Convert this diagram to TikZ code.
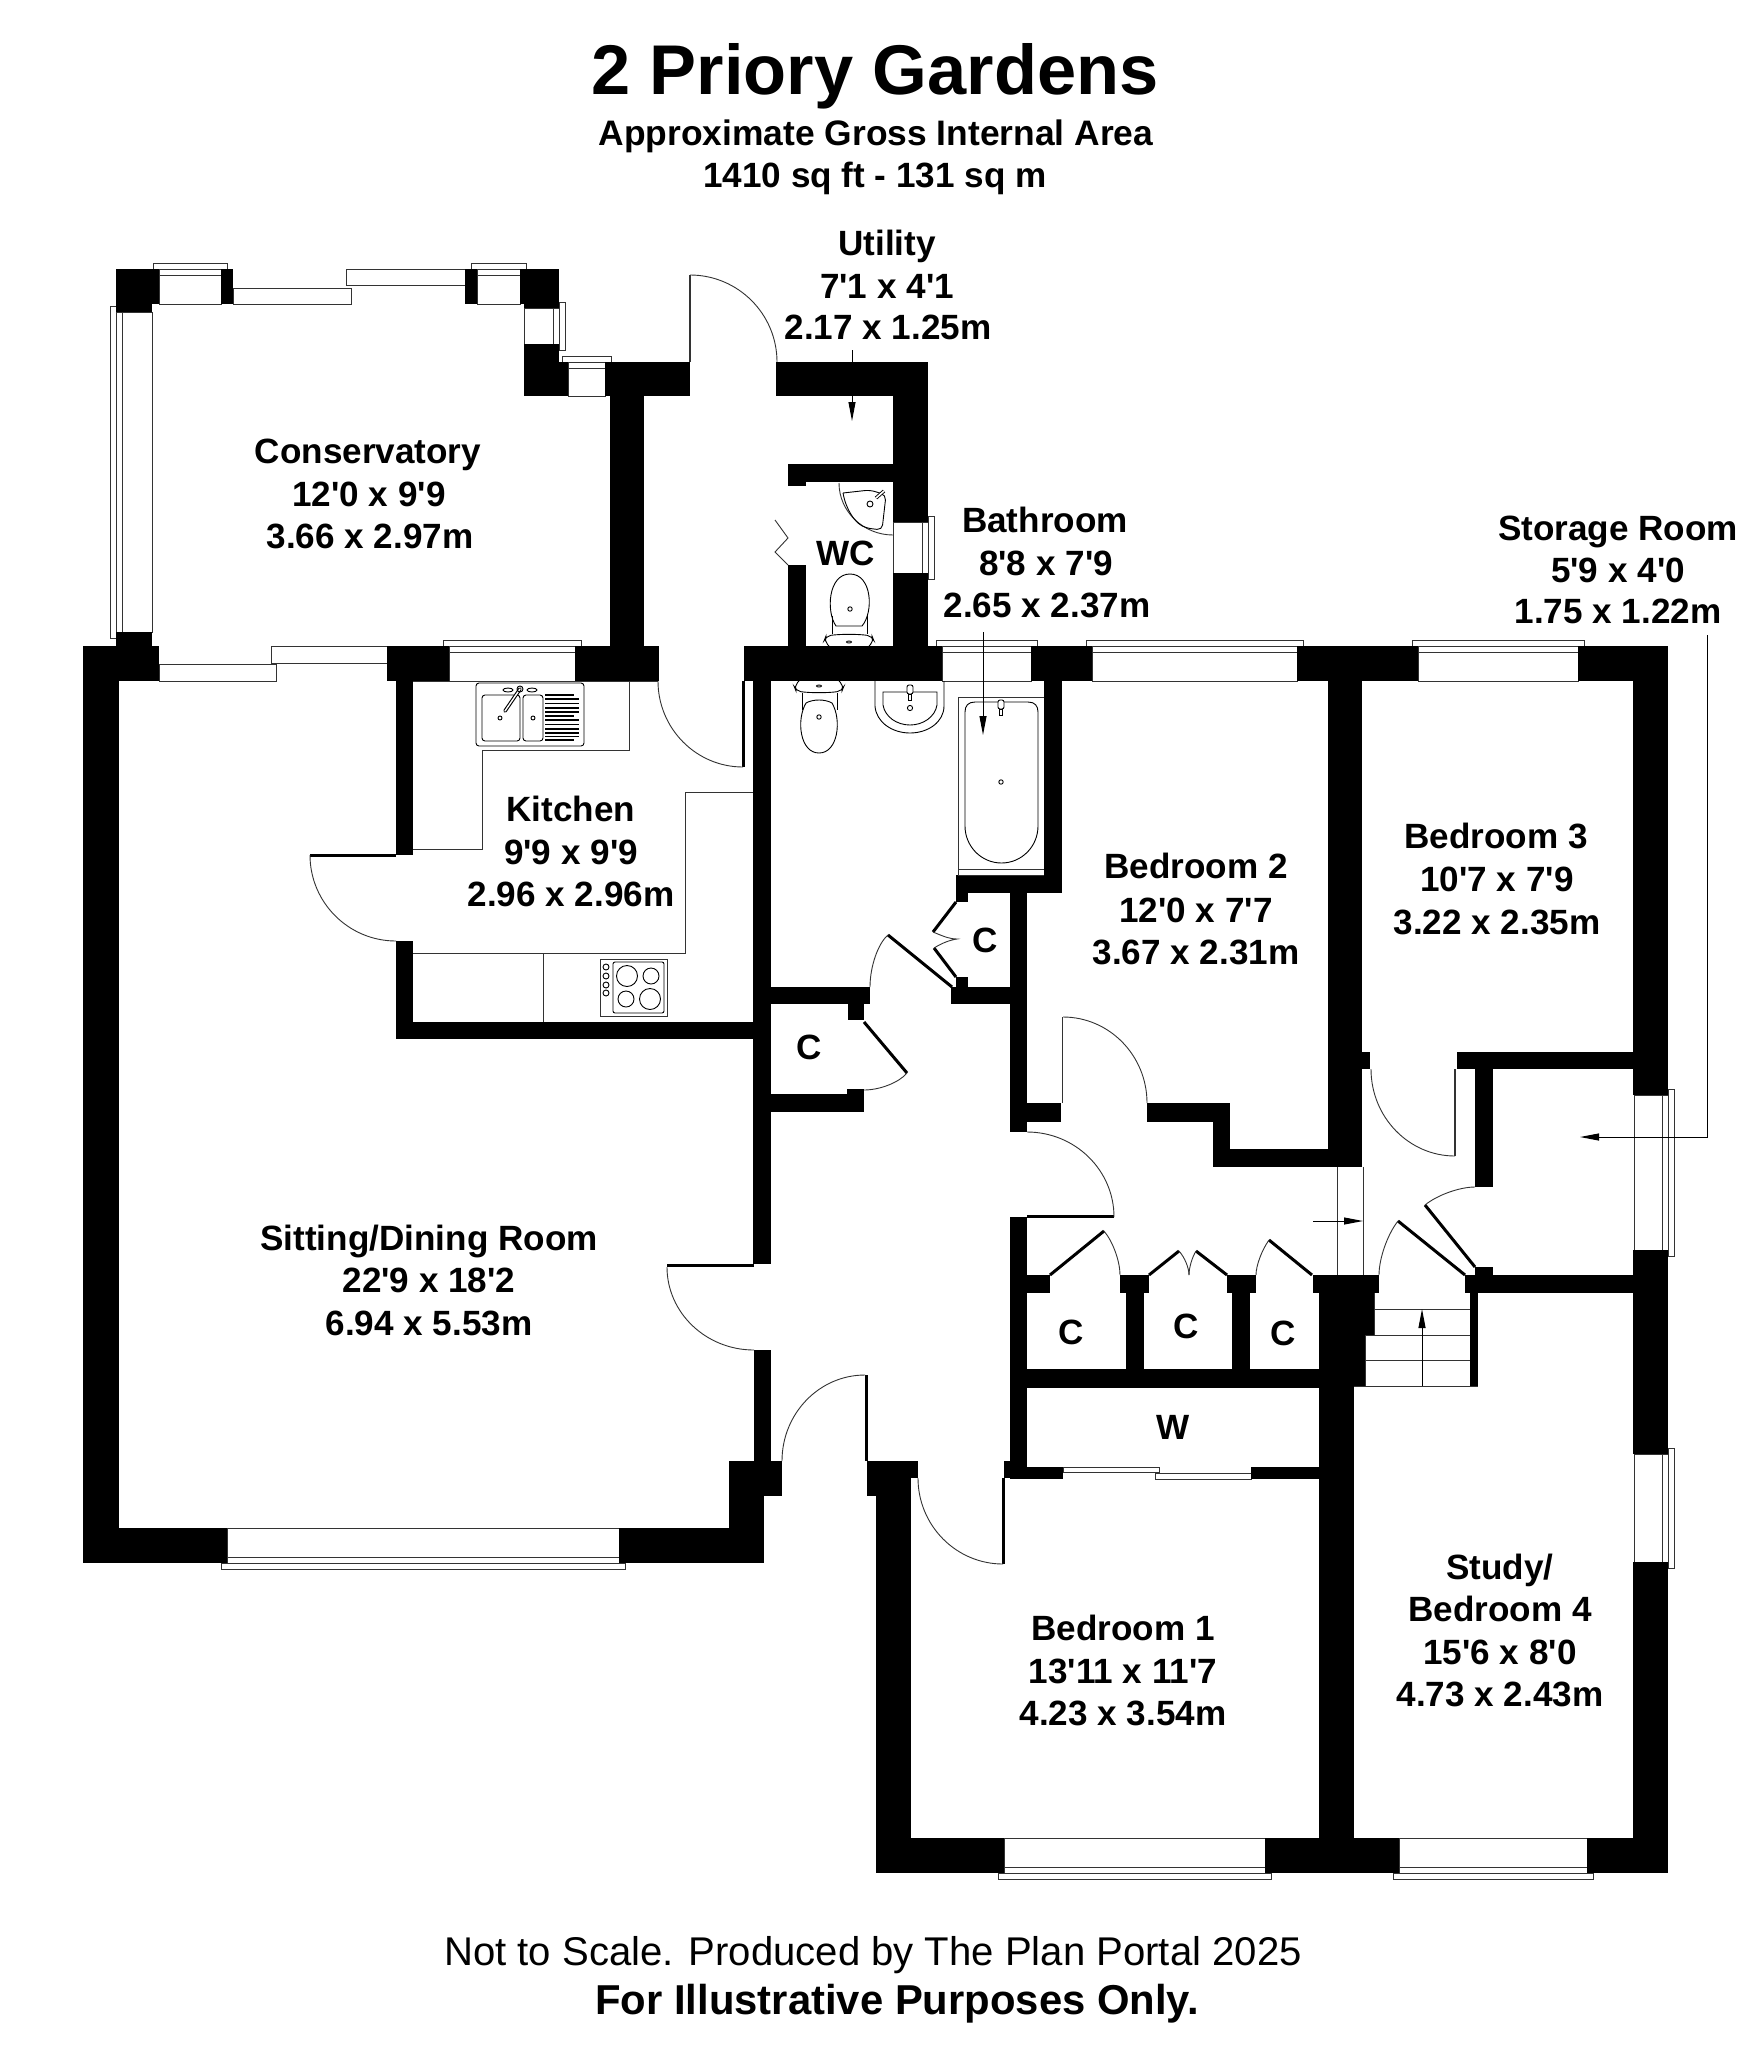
\documentclass[tikz,border=0pt]{standalone}
\usepackage{fontspec}
\usetikzlibrary{calc,arrows.meta}
\newfontfamily\lib{Liberation Sans}
\tikzset{
 x=1pt,y=-1pt,
 wall/.style={fill=black,draw=none},
 ln/.style={draw=black!80,line width=0.9pt},
 fix/.style={draw=black,line width=0.9pt},
 thk/.style={draw=black,line width=3pt},
 lbl/.style={anchor=base,inner sep=0pt,font=\lib\bfseries\fontsize{35.1}{40}\selectfont},
 ptr/.style={draw=black,line width=1pt,-{Triangle[length=19pt,width=7pt]}},
}
\newcommand\W[4]{\fill[wall] (#1,#2) rectangle (#3,#4);}
\newcommand\winT[4]{\draw[ln] (#1,#3) rectangle (#2,#4); \draw[ln] (#1,#3+6) -- (#2,#3+6); \draw[ln] (#1-6,#3) rectangle (#2+6,#3-6);}
\newcommand\winB[4]{\draw[ln] (#1,#3) rectangle (#2,#4); \draw[ln] (#1,#4-6) -- (#2,#4-6); \draw[ln] (#1-6,#4) rectangle (#2+6,#4+6);}
\newcommand\winR[4]{\draw[ln] (#3,#1) rectangle (#4,#2); \draw[ln] (#4-6,#1) -- (#4-6,#2); \draw[ln] (#4,#1-6) rectangle (#4+6,#2+6);}
\newcommand\winL[4]{\draw[ln] (#3,#1) rectangle (#4,#2); \draw[ln] (#3+6,#1) -- (#3+6,#2); \draw[ln] (#3,#1-6) rectangle (#3-6,#2+6);}
\newcommand\qa[3]{\draw[ln] (#1) .. controls ($(#1)!.552!(#3)$) and ($(#2)!.552!(#3)$) .. (#2);}
\begin{document}
\begin{tikzpicture}
\useasboundingbox (0,0) rectangle (1754,2048);
\fill[white] (0,0) rectangle (1754,2048);
% ---- windows
\winT{159}{221}{269}{304}
\winT{477}{520}{269}{304}
\winR{308}{344}{524}{559}
\winT{568}{605}{362}{396}
\winL{312}{632}{116}{152}
\winR{522}{573}{893}{928}
\winT{449}{575}{646}{681}
\winT{942}{1031}{646}{681}
\winT{1092}{1297}{646}{681}
\winT{1418}{1578}{646}{681}
\winR{1095}{1250}{1634}{1668}
\winR{1454}{1562}{1634}{1668}
\winB{227}{619}{1528}{1563}
\winB{1004}{1265}{1838}{1873}
\winB{1399}{1587}{1838}{1873}
% sliding doors
\draw[ln] (233,288) rectangle (351,304);
\draw[ln] (346,269) rectangle (465,285);
\draw[ln] (159,664) rectangle (276,681);
\draw[ln] (271,646) rectangle (387,663);
\draw[ln] (1063,1467) rectangle (1159,1472);
\draw[ln] (1155,1473) rectangle (1251,1479);
% ---- walls: conservatory
\W{116}{269}{159}{304}\W{116}{304}{152}{312}
\W{221}{269}{233}{304}\W{465}{269}{477}{304}
\W{520}{269}{559}{304}\W{524}{304}{559}{308}
\W{524}{344}{559}{396}\W{559}{362}{568}{396}
\W{605}{362}{690}{396}\W{610}{396}{644}{646}
\W{116}{632}{152}{646}
% utility / WC
\W{776}{362}{928}{396}\W{893}{396}{928}{522}\W{893}{573}{928}{646}
\W{788}{464}{893}{482}\W{788}{482}{806}{486}\W{788}{565}{806}{646}
% house top wall
\W{83}{646}{159}{681}\W{387}{646}{449}{681}\W{575}{646}{659}{681}
\W{744}{646}{942}{681}\W{1031}{646}{1092}{681}\W{1297}{646}{1418}{681}\W{1578}{646}{1668}{681}
% outer walls
\W{83}{646}{119}{1563}\W{83}{1528}{227}{1563}
\W{619}{1528}{764}{1563}\W{729}{1461}{764}{1528}\W{729}{1461}{782}{1496}
\W{1633}{681}{1668}{1095}\W{1633}{1250}{1668}{1454}\W{1633}{1562}{1668}{1873}
\W{876}{1838}{1004}{1873}\W{1265}{1838}{1399}{1873}\W{1587}{1838}{1668}{1873}
\W{876}{1478}{911}{1873}\W{867}{1461}{918}{1478}\W{867}{1478}{876}{1496}
% kitchen
\W{396}{681}{413}{855}\W{396}{941}{413}{1039}\W{396}{1022}{771}{1039}
\W{753}{681}{771}{1264}\W{754}{1350}{771}{1461}
% bathroom and cupboards
\W{771}{987}{870}{1004}\W{848}{1004}{864}{1020}
\W{771}{1094}{864}{1112}\W{847}{1089}{864}{1094}
\W{1044}{681}{1062}{875}\W{956}{875}{1062}{893}\W{956}{893}{968}{902}
\W{1010}{893}{1027}{1132}\W{951}{987}{1010}{1004}\W{956}{977}{968}{987}
\W{1027}{1103}{1061}{1122}
% bedrooms
\W{1328}{681}{1362}{1167}\W{1362}{1052}{1370}{1069}\W{1457}{1052}{1633}{1069}
\W{1475}{1069}{1493}{1187}\W{1475}{1267}{1493}{1275}\W{1465}{1275}{1634}{1293}
\W{1147}{1103}{1230}{1122}\W{1213}{1122}{1230}{1167}\W{1213}{1149}{1362}{1167}
% hall
\W{1010}{1217}{1027}{1467}
\W{1027}{1275}{1050}{1293}\W{1120}{1275}{1149}{1293}\W{1227}{1275}{1256}{1293}\W{1313}{1275}{1379}{1293}
\W{1126}{1293}{1144}{1369}\W{1232}{1293}{1250}{1369}
\W{1319}{1293}{1374}{1335}\W{1319}{1335}{1365}{1386}
\W{1010}{1369}{1354}{1388}\W{1319}{1388}{1354}{1873}
\W{1004}{1461}{1010}{1478}\W{1010}{1467}{1063}{1479}\W{1251}{1467}{1319}{1479}
\W{1470}{1293}{1478}{1386}
% ---- doors
\draw[ln,line width=1.4pt] (690,275) -- (690,362);
\qa{690,275}{777,362}{777,275}
\draw[draw=black,line width=3pt] (743.5,681) -- (743.5,767);
\qa{658,681}{743,767}{658,767}
\draw[thk] (310,855) -- (396,855);
\qa{310,855}{396,941}{310,941}
\draw[thk] (667,1265.5) -- (754,1265.5);
\qa{667,1267}{754,1350}{667,1350}
\draw[thk] (866.5,1375) -- (866.5,1461);
\qa{782,1461}{865,1375}{782,1375}
\draw[thk] (1003.5,1478) -- (1003.5,1564);
\qa{918,1478}{1003,1564}{918,1564}
\draw[ln,line width=1.6pt] (1062.5,1017) -- (1062.5,1103);
\qa{1063,1017}{1147,1103}{1147,1017}
\draw[thk] (1027,1216.5) -- (1114,1216.5);
\qa{1027,1132}{1114,1217}{1114,1132}
\draw[ln,line width=1.6pt] (1455,1069) -- (1455,1156);
\qa{1371,1069}{1455,1156}{1371,1156}
\draw[thk] (1425,1205) -- (1475,1267);
\qa{1475,1187}{1425,1205}{1447,1187}
\draw[thk] (952,987) -- (888,935);
\qa{870,987}{888,935}{870,950}
\draw[thk] (956,902) -- (933,932);
\draw[thk] (956,977) -- (934,948);
\draw[ln] (933,932) .. controls (945,937) and (950,939) .. (957,939) .. controls (950,940) and (942,943) .. (934,948);
\draw[thk] (864,1022) -- (907,1073);
\qa{907,1073}{864,1090}{893,1090}
\draw[thk] (1050,1275) -- (1104,1231);
\qa{1120,1275}{1104,1231}{1120,1250}
\draw[thk] (1149,1275) -- (1179,1251);
\draw[thk] (1227,1275) -- (1196,1251);
\qa{1189,1275}{1179,1251}{1189,1262}
\qa{1189,1275}{1196,1251}{1189,1262}
\draw[thk] (1312,1275) -- (1269,1240);
\qa{1256,1275}{1269,1240}{1256,1258}
\draw[thk] (1465,1275) -- (1398,1221);
\qa{1379,1275}{1398,1221}{1379,1245}
\draw[ln] (775,520) -- (788,538) -- (775,552) -- (788,565);
% hall thin lines and stairs
\draw[ln] (1337,1167) -- (1337,1275);
\draw[ln] (1363,1167) -- (1363,1275);
\draw[ln] (1374,1293) -- (1374,1335) -- (1365,1335) -- (1365,1386);
\draw[ln] (1374,1309) -- (1470,1309);
\draw[ln] (1365,1335) -- (1470,1335);
\draw[ln] (1365,1360) -- (1470,1360);
\draw[ln] (1354,1386) -- (1478,1386);
% ---- kitchen units
\draw[ln] (413,849) -- (482,849) -- (482,750) -- (629,750) -- (629,681);
\draw[ln] (413,681) -- (658,681);
\draw[ln] (753,792) -- (685,792) -- (685,953) -- (413,953);
\draw[ln] (543,953) -- (543,1022);
% sink
\draw[fix,rounded corners=3pt] (476,683) rectangle (584,746);
\draw[fix,rounded corners=3pt] (482,695) rectangle (520,741);
\draw[fix,rounded corners=3pt] (523,695) rectangle (543,741);
\foreach \yy in {695,716,740} \draw[line width=1.2pt] (545,\yy) -- (574,\yy);
\foreach \yy in {699,703.5,708,712,720,724.5,729,733,736.5} \draw[line width=1.4pt] (545,\yy) -- (579,\yy);
\draw[fix] (500,718) circle (2); \draw[fix] (533,718) circle (2);
\draw[draw=black,line width=3.6pt,line cap=round] (520,689) -- (505,711);
\draw[draw=white,line width=1.4pt,line cap=round] (520,689) -- (505,711);
\draw[fix] (520,689) circle (3);
\draw[fix] (508,690) ellipse (5 and 2); \draw[fix] (532,690) ellipse (5 and 2);
% hob
\draw[ln] (600,959) rectangle (667,1016);
\draw[fix,rounded corners=2pt] (613,962) rectangle (664,1013);
\draw[fix] (627,976) circle (10.5); \draw[fix] (651,976) circle (8);
\draw[fix] (626,999) circle (8); \draw[fix] (650,999) circle (10.5);
\foreach \yy in {967,976,985,993} \draw[fix] (606,\yy) circle (3);
% bath
\draw[ln] (958,869) -- (1044,869);
\draw[ln] (958,875) -- (958,697) -- (1044,697);
\draw[ln] (958,875) -- (1044,875);
\draw[fix] (965,812) -- (965,712) .. controls (965,706) and (968,702) .. (975,702) -- (1028,702) .. controls (1035,702) and (1038,706) .. (1038,712) -- (1038,826)
  arc[start angle=0,end angle=-180,x radius=36.5,y radius=-37] -- (965,812);
\draw[fix] (1001,782) circle (2.2);
\draw[fix,fill=white,rounded corners=2pt] (998,700) rectangle (1004,709);
\draw[fix] (999.5,709) rectangle (1002.5,715);
% bathroom basin
\draw[fix] (875,681) -- (875,706) .. controls (876,722) and (892,733) .. (910,733) .. controls (928,733) and (944,722) .. (944,706) -- (944,681);
\draw[fix] (883,692) -- (883,705) .. controls (885,717) and (897,725) .. (910,725) .. controls (923,725) and (935,717) .. (937,705) -- (937,692) -- cycle;
\draw[fix,fill=white,rounded corners=2pt] (907,685) rectangle (913,694);
\draw[fix] (908.5,694) rectangle (911.5,700);
\draw[fix] (910,708) circle (2.6);
% bathroom toilet
\draw[fix,rounded corners=5pt] (799,681) -- (794,686) -- (796,691) .. controls (810,693) and (828,693) .. (842,691) -- (844,686) -- (839,681);
\draw[fix] (819,686) ellipse (2.5 and 1);
\draw[fix] (802,693) -- (802,710) (837,693) -- (837,710);
\draw[fix] (806,703) .. controls (796,720) and (800,753) .. (819,753) .. controls (838,753) and (842,720) .. (832,703) .. controls (825,699) and (813,699) .. (806,703) -- cycle;
\draw[fix] (819,717) circle (2.2);
% WC toilet
\draw[fix,rounded corners=5pt] (829,646) -- (824,641) -- (826,636) .. controls (840,634) and (858,634) .. (872,636) -- (874,641) -- (869,646);
\draw[fix] (849,642) ellipse (2.5 and 1);
\draw[fix] (832,634) -- (832,616) (867,634) -- (867,616);
\draw[fix] (836,626) .. controls (826,612) and (828,574) .. (850,574) .. controls (872,574) and (874,612) .. (862,626) -- cycle;
\draw[fix] (850,609) circle (2.2);
% WC basin
\draw[ln] (839,483) .. controls (839,512) and (864,535) .. (893,535);
\draw[fix,rounded corners=5pt] (843,493) -- (870,490) -- (886,495) -- (882,530) -- (866,528) .. controls (855,522) and (846,510) .. (843,493);
\draw[fix] (870,504) circle (3);
\draw[draw=black,line width=3.4pt] (876,498) -- (884,491);
\draw[draw=white,line width=1.6pt] (876,498) -- (884,491);
% ---- text
\node[lbl,font=\lib\bfseries\fontsize{70.4}{80}\selectfont] (title) at (875,94) {2 Priory Gardens};
\node[lbl,font=\lib\bfseries\fontsize{35.4}{40}\selectfont] (sub1) at (876,145) {Approximate Gross Internal Area};
\node[lbl] (sub2) at (875,187) {1410 sq ft - 131 sq m};
\node[lbl] (util1) at (887,255) {Utility};
\node[lbl] (util2) at (887,298) {7'1 x 4'1};
\node[lbl] (util3) at (888,339) {2.17 x 1.25m};
\node[lbl] (cons1) at (368,463) {Conservatory};
\node[lbl] (cons2) at (369,506) {12'0 x 9'9};
\node[lbl] (cons3) at (370,548) {3.66 x 2.97m};
\node[lbl] (wc) at (846,565) {WC};
\node[lbl] (bath1) at (1045,532.5) {Bathroom};
\node[lbl] (bath2) at (1046,575.5) {8'8 x 7'9};
\node[lbl] (bath3) at (1047,617.5) {2.65 x 2.37m};
\node[lbl] (stor1) at (1618,540) {Storage Room};
\node[lbl] (stor2) at (1618,582) {5'9 x 4'0};
\node[lbl] (stor3) at (1618,623) {1.75 x 1.22m};
\node[lbl] (kit1) at (571,821) {Kitchen};
\node[lbl] (kit2) at (571,864) {9'9 x 9'9};
\node[lbl] (kit3) at (571,906) {2.96 x 2.96m};
\node[lbl] (bed2a) at (1196,878) {Bedroom 2};
\node[lbl] (bed2b) at (1196,922) {12'0 x 7'7};
\node[lbl] (bed2c) at (1196,964) {3.67 x 2.31m};
\node[lbl] (bed3a) at (1496,848) {Bedroom 3};
\node[lbl] (bed3b) at (1497,891) {10'7 x 7'9};
\node[lbl] (bed3c) at (1497,934) {3.22 x 2.35m};
\node[lbl] (c1) at (985,952) {C};
\node[lbl] (c2) at (809,1059) {C};
\node[lbl] (c3) at (1071,1344) {C};
\node[lbl] (c4) at (1186,1338) {C};
\node[lbl] (c5) at (1283,1345) {C};
\node[lbl] (w) at (1173,1439) {W};
\node[lbl] (sit1) at (429,1250) {Sitting/Dining Room};
\node[lbl] (sit2) at (429,1292) {22'9 x 18'2};
\node[lbl] (sit3) at (429,1335) {6.94 x 5.53m};
\node[lbl] (bed1a) at (1123,1640) {Bedroom 1};
\node[lbl] (bed1b) at (1123,1683) {13'11 x 11'7};
\node[lbl] (bed1c) at (1123,1725) {4.23 x 3.54m};
\node[lbl] (st1) at (1500,1579) {Study/};
\node[lbl] (st2) at (1500,1621) {Bedroom 4};
\node[lbl] (st3) at (1500,1664) {15'6 x 8'0};
\node[lbl] (st4) at (1500,1706) {4.73 x 2.43m};
\node[lbl,font=\lib\fontsize{40.1}{46}\selectfont] (foot1) at (873,1965) {Not to Scale. Produced by The Plan Portal 2025};
\node[lbl,font=\lib\bfseries\fontsize{41.8}{46}\selectfont] (foot2) at (897,2014) {For Illustrative Purposes Only.};
% ---- pointers
\coordinate (utilEnd) at (852,421);
\coordinate (utilStart) at (852,350);
\draw[ptr] (utilStart) -- (utilEnd);
\coordinate (bathStart) at (983,632);
\coordinate (bathEnd) at (983,735);
\draw[ptr] (bathStart) -- (bathEnd);
\coordinate (storStart) at (1707,635);
\coordinate (storTurn) at (1707,1137);
\coordinate (storEnd) at (1580,1137);
\draw[ptr] (storStart) -- (storTurn) -- (storEnd);
\coordinate (hallStart) at (1313,1221);
\coordinate (hallEnd) at (1363,1221);
\draw[ptr] (hallStart) -- (hallEnd);
\coordinate (stairStart) at (1422,1386);
\coordinate (stairEnd) at (1422,1309);
\draw[ptr] (stairStart) -- (stairEnd);
\end{tikzpicture}
\end{document}
